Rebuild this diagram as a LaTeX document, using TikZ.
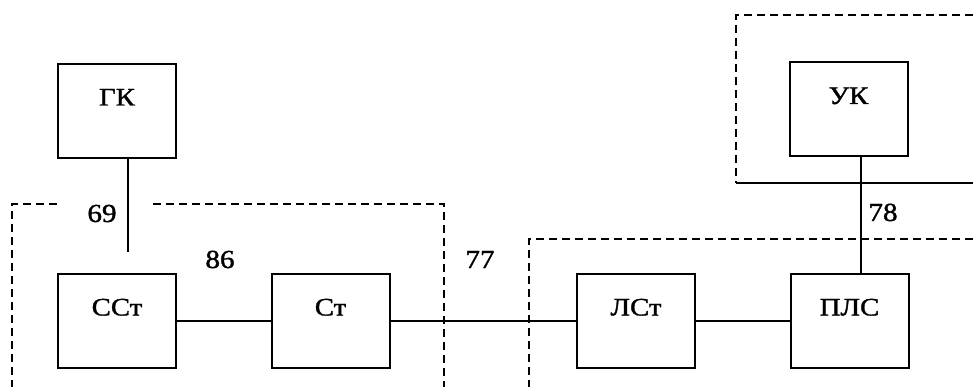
\documentclass[tikz,border=0pt]{standalone}
\usepackage{fontspec}
\usepackage{graphicx}
\setmainfont{Liberation Serif}
\newfontfamily\heavyserif{Liberation Serif}[FakeBold=1.2]
\newcommand\widetxt[1]{\scalebox{1.2}[1.05]{#1}}
\newcommand\widenum[1]{\scalebox{1.12}[1]{#1}}
\tikzset{
  blk/.style={draw, line width=2pt, minimum width=118pt, minimum height=94pt,
    inner sep=0pt, text height=17pt, text depth=28pt,
    font=\heavyserif\fontsize{24}{28}\selectfont},
  num/.style={anchor=base, inner sep=0pt, font=\heavyserif\fontsize{26}{30}\selectfont},
  wire/.style={line width=1.5pt},
  zone/.style={line width=2.4pt, dash pattern=on 8pt off 5pt},
  zoneedge/.style={line width=1.6pt}
}
\begin{document}
\begin{tikzpicture}[x=1pt,y=-1pt]
\useasboundingbox (0,0) rectangle (973,387);
% blocks
\node[blk] (gk)   at (117,111)   {\widetxt{ГК}};
\node[blk] (sst)  at (117,321)   {\widetxt{ССт}};
\node[blk] (st)   at (330.5,321) {\widetxt{Ст}};
\node[blk] (lst)  at (636,321)   {\widetxt{ЛСт}};
\node[blk] (pls)  at (849.5,321) {\widetxt{ПЛС}};
\node[blk] (uk)   at (848.5,109.5) {\widetxt{УК}};
% number labels
\node[num] (n69) at (102,222) {\widenum{69}};
\node[num] (n86) at (220,268) {\widenum{86}};
\node[num] (n77) at (480,268) {\widenum{77}};
\node[num] (n78) at (883,221) {\widenum{78}};
% connectors
\coordinate (g1) at (128,252);
\draw[wire] (gk.south -| g1) -- (g1);
\draw[wire] (sst.east) -- (st.west);
\draw[wire] (st.east) -- (lst.west);
\draw[wire] (lst.east) -- (pls.west);
\draw[wire] ([xshift=12.5pt]uk.south) -- ([xshift=12.5pt]uk.south |- pls.north);
% zone boundaries
\coordinate (za1) at (57,204);
\coordinate (za2) at (12,204);
\coordinate (za3) at (12,387);
\coordinate (zb1) at (153,204);
\coordinate (zb2) at (444,204);
\coordinate (zb3) at (444,387);
\coordinate (zc1) at (973,239);
\coordinate (zc2) at (529,239);
\coordinate (zc3) at (529,387);
\coordinate (zd1) at (973,15);
\coordinate (zd2) at (736,15);
\coordinate (zd3) at (736,183);
\coordinate (zd4) at (973,183);
\draw[zone] (za1) -- (za2) -- (za3);
\draw[zone] (zb1) -- (zb2) -- (zb3);
\draw[zone] (zc1) -- (zc2) -- (zc3);
\draw[zone] (zd1) -- (zd2) -- (zd3);
\draw[zoneedge] (zd3) -- (zd4);
\end{tikzpicture}
\end{document}
